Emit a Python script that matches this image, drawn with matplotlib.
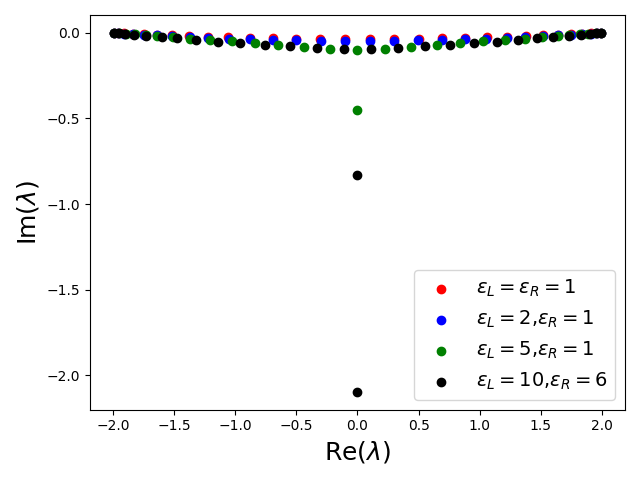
import numpy as np
import matplotlib
matplotlib.use("Agg")
import matplotlib.pyplot as plt

# eigenvalues (right half of each band, left half is mirrored)
re_red = [0.101, 0.303, 0.501, 0.695, 0.881, 1.058, 1.224, 1.378, 1.518, 1.641, 1.749, 1.838, 1.908, 1.959, 1.990]
im_red = [-0.035, -0.034, -0.033, -0.031, -0.028, -0.025, -0.022, -0.018, -0.015, -0.011, -0.008, -0.005, -0.003, -0.001, -0.0005]

re_blue = [0.100, 0.301, 0.499, 0.692, 0.878, 1.054, 1.220, 1.374, 1.515, 1.638, 1.747, 1.836, 1.907, 1.958, 1.990]
im_blue = [-0.047, -0.046, -0.044, -0.041, -0.038, -0.034, -0.029, -0.025, -0.020, -0.015, -0.011, -0.007, -0.004, -0.002, -0.0005]

re_green = [0.225, 0.439, 0.650, 0.842, 1.026, 1.204, 1.372, 1.509, 1.638, 1.734, 1.820, 1.890, 1.950, 1.990]
im_green = [-0.095, -0.083, -0.072, -0.058, -0.047, -0.039, -0.033, -0.026, -0.018, -0.013, -0.009, -0.005, -0.003, -0.001]
re_green_mid = [0.0, 0.0]
im_green_mid = [-0.099, -0.449]

re_black = [0.109, 0.329, 0.554, 0.760, 0.957, 1.138, 1.317, 1.473, 1.597, 1.734, 1.827, 1.899, 1.955, 1.990]
im_black = [-0.092, -0.087, -0.079, -0.070, -0.061, -0.051, -0.042, -0.032, -0.024, -0.016, -0.010, -0.006, -0.003, -0.001]
re_black_mid = [0.0, 0.0]
im_black_mid = [-0.829, -2.096]


def full(re, im, re_mid=(), im_mid=()):
    re = np.array(re)
    im = np.array(im)
    x = np.concatenate([-re[::-1], list(re_mid), re])
    y = np.concatenate([im[::-1], list(im_mid), im])
    return x, y


series = [
    (full(re_red, im_red), "red", r"$\varepsilon_L=\varepsilon_R=1$"),
    (full(re_blue, im_blue), "blue", r"$\varepsilon_L=2$,$\varepsilon_R=1$"),
    (full(re_green, im_green, re_green_mid, im_green_mid), "green", r"$\varepsilon_L=5$,$\varepsilon_R=1$"),
    (full(re_black, im_black, re_black_mid, im_black_mid), "black", r"$\varepsilon_L=10$,$\varepsilon_R=6$"),
]

plt.figure(figsize=(6.4, 4.8), dpi=100)
for (x, y), c, lab in series:
    plt.scatter(x, y, color=c, label=lab)

plt.xlabel(r"Re($\lambda$)", fontsize=18)
plt.ylabel(r"Im($\lambda$)", fontsize=18)
plt.legend(fontsize=14, loc="lower right")
plt.tight_layout()
plt.savefig("out.png")
